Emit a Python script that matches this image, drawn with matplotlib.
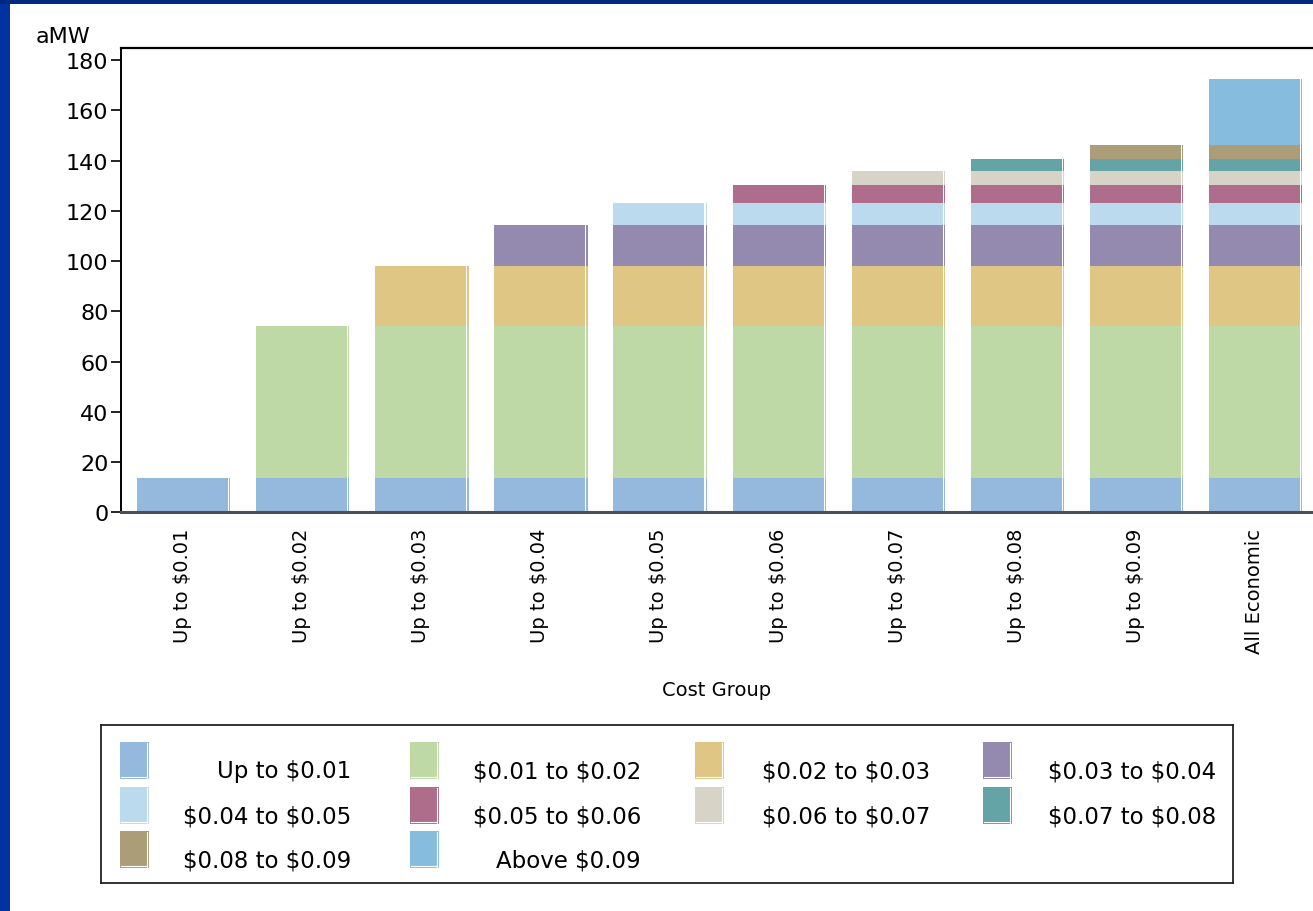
import matplotlib
matplotlib.use("Agg")
import matplotlib.pyplot as plt
from matplotlib.patches import Rectangle

plt.rcParams['font.family'] = ['DejaVu Sans']
plt.rcParams['text.parse_math'] = False

# Cost groups along the x axis
categories = ["Up to $0.01", "Up to $0.02", "Up to $0.03", "Up to $0.04",
              "Up to $0.05", "Up to $0.06", "Up to $0.07", "Up to $0.08",
              "Up to $0.09", "All Economic"]

# Cost bands stacked within each group (aMW)
bands = ["Up to $0.01", "$0.01 to $0.02", "$0.02 to $0.03", "$0.03 to $0.04",
         "$0.04 to $0.05", "$0.05 to $0.06", "$0.06 to $0.07", "$0.07 to $0.08",
         "$0.08 to $0.09", "Above $0.09"]
band_values = [13.6, 60.4, 23.9, 16.3, 8.9, 7.0, 5.7, 4.8, 5.7, 26.1]
band_colors = ["#94B9DD", "#BFD9A6", "#DFC684", "#9489AE", "#BCDAEE",
               "#AD6D8B", "#D7D3C7", "#64A3A6", "#AA9D78", "#86BDDE"]

# Number of bands included in each cost group
bands_in_group = [1, 2, 3, 4, 5, 6, 7, 8, 9, 10]

yticks = [0, 20, 40, 60, 80, 100, 120, 140, 160, 180]

W, H = 1313, 912
fig = plt.figure(figsize=(W / 100, H / 100), dpi=100)
fig.patch.set_facecolor("white")

# blue frame on the left and top
fig.add_artist(Rectangle((0, 0), 10 / W, 1, transform=fig.transFigure,
                         facecolor="#0033A0", edgecolor="none", zorder=0))
fig.add_artist(Rectangle((0, 1 - 5 / H), 1, 5 / H, transform=fig.transFigure,
                         facecolor="#002A80", edgecolor="none", zorder=0))

ax = fig.add_axes([121 / W, 1 - 513.3 / H, 1 - 121 / W, (513.3 - 49) / H])
bar_w = 0.764
for gi, n in enumerate(bands_in_group):
    bottom = 0.0
    for bi in range(n):
        v = band_values[bi]
        ax.bar(gi, v, width=bar_w, bottom=bottom, color=band_colors[bi],
               edgecolor="none", zorder=2)
        # thin offset sliver giving the bar edge its shaded look
        ax.bar(gi + bar_w / 2 + 0.014, v, width=0.011, bottom=bottom,
               color=band_colors[bi], edgecolor="none", zorder=2)
        bottom += v

ax.set_xlim(-0.516, 9.49)
ax.set_ylim(0, 184.8)
ax.set_yticks(yticks)
ax.set_yticklabels([str(t) for t in yticks], fontsize=16)
ax.set_xticks(range(len(categories)))
ax.set_xticklabels(categories, rotation=90, fontsize=14, va="top", ha="center")
ax.tick_params(axis="x", length=0, pad=11)
ax.tick_params(axis="y", direction="out", length=7, width=1.2, pad=2)

ax.spines["right"].set_visible(False)
ax.spines["top"].set_linewidth(1.6)
ax.spines["left"].set_linewidth(1.4)
ax.spines["bottom"].set_color("#4a4f58")
ax.spines["bottom"].set_linewidth(2.2)
ax.spines["bottom"].set_zorder(3)

ax.set_xlabel("Cost Group", fontsize=14, labelpad=20)
fig.text(36 / W, 1 - 37 / H, "aMW", fontsize=16, va="center", ha="left")

# legend box
lx0, ly0, lx1, ly1 = 101, 726, 1233, 884
lax = fig.add_axes([lx0 / W, 1 - ly1 / H, (lx1 - lx0) / W, (ly1 - ly0) / H])
lax.set_xlim(0, lx1 - lx0)
lax.set_ylim(ly1 - ly0, 0)
lax.set_xticks([])
lax.set_yticks([])
for s in lax.spines.values():
    s.set_linewidth(1.3)
    s.set_color("#222222")

col_patch_x = [19, 309, 594, 882]
col_text_right = [250, 540, 829, 1115]
row_top = [17, 62, 106]
for i, (name, col) in enumerate(zip(bands, band_colors)):
    r, c = divmod(i, 4)
    px, py = col_patch_x[c], row_top[r]
    lax.add_patch(Rectangle((px, py), 29, 37, facecolor=col, edgecolor="none"))
    lax.plot([px + 27, px + 27], [py + 1, py + 36], color="white", lw=0.8)
    lax.plot([px + 1, px + 27], [py + 35, py + 35], color="white", lw=0.8)
    lax.text(col_text_right[c], py + 29, name, fontsize=16.5, ha="right",
             va="center")

fig.savefig("out.png", dpi=100)
